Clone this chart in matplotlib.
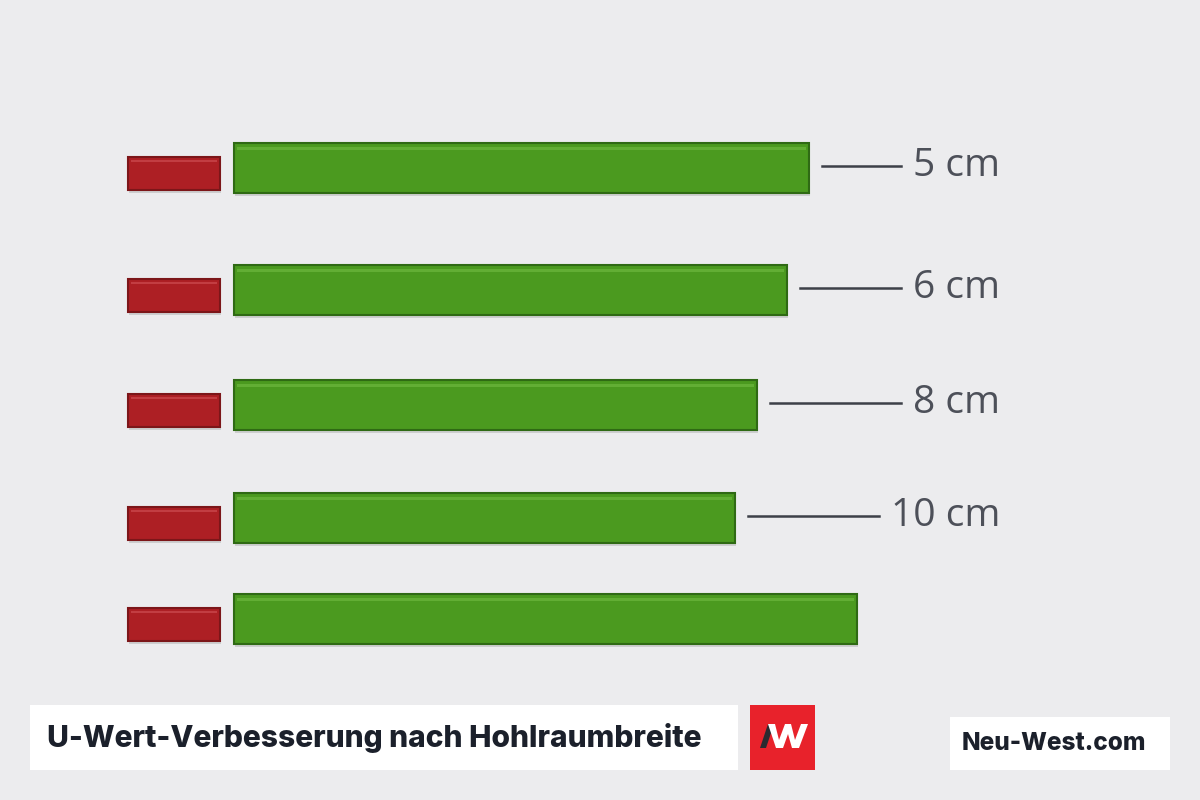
import matplotlib.pyplot as plt
from matplotlib.patches import Rectangle, Polygon

# data
cavity = ["5 cm", "6 cm", "8 cm", "10 cm", ""]
green_len = [575, 553, 523, 501, 623]
red_len = [92, 92, 92, 92, 92]

# layout (pixel-like units, y grows downward)
row_y = [168, 290, 405, 518, 619]
red_x0 = 128
green_x0 = 234
label_right = 1000

bg = "#ececee"
fig = plt.figure(figsize=(12, 8), dpi=100, facecolor=bg)
ax = fig.add_axes([0, 0, 1, 1])
ax.set_xlim(0, 1200)
ax.set_ylim(800, 0)
ax.axis("off")

red_y = [y + 5 for y in row_y]

# shadows
ax.barh([y + 3 for y in row_y], green_len, left=green_x0 + 1, height=50, color="#cdcecf", zorder=1)
ax.barh([y + 3 for y in red_y], red_len, left=red_x0 + 1, height=33, color="#cdcecf", zorder=1)

# bars
ax.barh(row_y, green_len, left=green_x0, height=50, color="#4b9a1f",
        edgecolor="#2f6a14", linewidth=1.5, zorder=2)
ax.barh(red_y, red_len, left=red_x0, height=33, color="#ad1f24",
        edgecolor="#7c1619", linewidth=1.5, zorder=2)
# highlights
ax.barh([y - 20 for y in row_y], [l - 6 for l in green_len], left=green_x0 + 3, height=3,
        color="#6cb73e", alpha=0.7, zorder=3)
ax.barh([y - 12 for y in red_y], [l - 6 for l in red_len], left=red_x0 + 3, height=2.5,
        color="#cc4a50", alpha=0.7, zorder=3)

# labels with leader lines
fig.canvas.draw()
renderer = fig.canvas.get_renderer()
inv = ax.transData.inverted()
for y, g, lab in zip(row_y, green_len, cavity):
    if not lab:
        continue
    t = ax.text(label_right, y - 2, lab, ha="right", va="center", fontsize=28,
                family="Open Sans", color="#4d5059")
    bb = t.get_window_extent(renderer)
    x_left = inv.transform((bb.x0, bb.y0))[0]
    ax.plot([green_x0 + g + 13, x_left - 12], [y - 2, y - 2], color="#3d4048", lw=1.8)

# title box
ax.add_patch(Rectangle((30, 705), 708, 65, facecolor="white", edgecolor="none", zorder=4))
ax.text(47, 738, "U-Wert-Verbesserung nach Hohlraumbreite", ha="left", va="center",
        fontsize=21.6, family="Inter", weight="heavy", color="#1b202b", zorder=5)

# logo
ax.add_patch(Rectangle((750, 705), 65, 65, facecolor="#e8222b", edgecolor="none", zorder=4))
ax.add_patch(Polygon([[760, 748], [766, 748], [774, 724], [768, 724]], closed=True,
                     facecolor="#2a2a30", edgecolor="none", zorder=5))
ax.add_patch(Polygon([[768, 724], [775, 724], [779, 740], [785, 724], [791, 724],
                      [795, 740], [801, 724], [808, 724], [799, 748], [792, 748],
                      [788, 734], [783, 748], [776, 748]], closed=True,
                     facecolor="white", edgecolor="none", zorder=5))

# site box
ax.add_patch(Rectangle((950, 717), 220, 53, facecolor="white", edgecolor="none", zorder=4))
ax.text(1054, 744, "Neu-West.com", ha="center", va="center", fontsize=17.5,
        family="Inter", weight="heavy", color="#1b202b", zorder=5)

fig.savefig("out.png", dpi=100, facecolor=bg)
